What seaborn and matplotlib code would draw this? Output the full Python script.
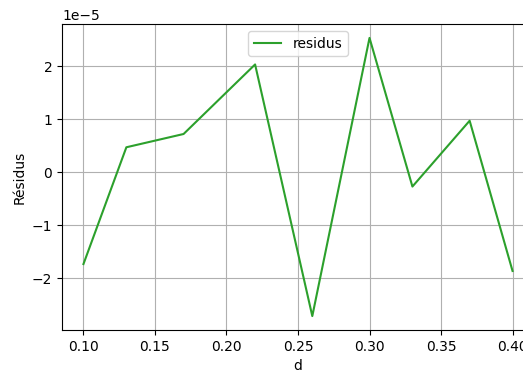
import matplotlib
matplotlib.use("Agg")
import matplotlib.pyplot as plt
import seaborn as sns
import pandas as pd

d_values = [0.10, 0.13, 0.17, 0.22, 0.26, 0.30, 0.33, 0.37, 0.40]
residus = [-1.73e-5, 0.47e-5, 0.72e-5, 2.03e-5, -2.71e-5, 2.53e-5, -0.27e-5, 0.97e-5, -1.86e-5]

df = pd.DataFrame({"d": d_values, "residus": residus})

fig = plt.figure(figsize=(5.23, 3.73), dpi=100)
W, H = 523, 373
left, right, top, bottom = 62, 534, 24, 330
ax = fig.add_axes([left / W, (H - bottom) / H, (right - left) / W, (bottom - top) / H])

sns.lineplot(data=df, x="d", y="residus", ax=ax, color="#2ca02c", label="residus", linewidth=1.5)
ax.grid(True, color="#b0b0b0", linewidth=0.8)
ax.set_axisbelow(True)
ax.set_xlabel("d")
ax.set_ylabel("Résidus")
ax.set_xticks([0.10, 0.15, 0.20, 0.25, 0.30, 0.35, 0.40])
ax.set_xticklabels(["0.10", "0.15", "0.20", "0.25", "0.30", "0.35", "0.40"])
ax.legend(loc="upper center")

fig.savefig("out.png", dpi=100)
